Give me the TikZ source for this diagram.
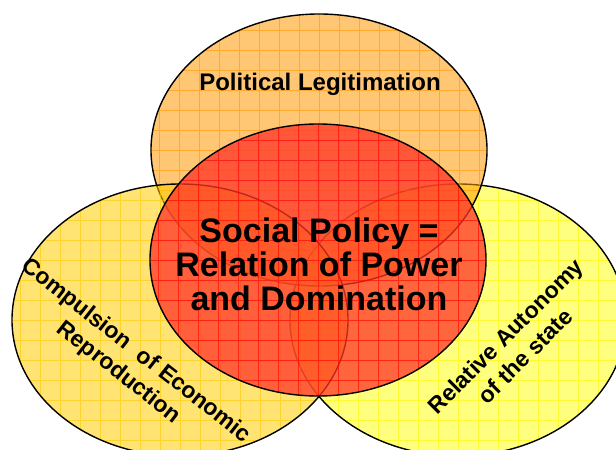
\documentclass[tikz,border=0pt]{standalone}
\usepackage{fontspec}
\setmainfont{Liberation Sans}
\usetikzlibrary{shapes.geometric}

\definecolor{legitcolor}{RGB}{255,153,0}
\definecolor{legitgrid}{RGB}{255,150,0}
\definecolor{econcolor}{RGB}{255,204,0}
\definecolor{econgrid}{RGB}{255,200,0}
\definecolor{autocolor}{RGB}{255,255,0}
\definecolor{autogrid}{RGB}{255,245,0}
\definecolor{powercolor}{RGB}{255,51,40}
\definecolor{powergrid}{RGB}{255,0,0}

\begin{document}
\begin{tikzpicture}[x=1bp, y=-1bp,
  venn/.style = {draw, ellipse, line width=1.4pt, inner sep=0pt, minimum width=336bp, minimum height=272bp},
  gridded/.style = {path picture={\draw[#1, line width=0.8bp, draw opacity=0.6] ([shift={(-30bp,-30bp)}]path picture bounding box.south west) grid[step=20bp] ([shift={(30bp,30bp)}]path picture bounding box.north east);}},
  venntext/.style = {align=center, inner sep=0pt, text=black}]
	\useasboundingbox (0,0) rectangle (616,450);

	% the four sets
	\node[venn, fill=autocolor, fill opacity=0.5, gridded=autogrid] (Autonomy) at (458,320) {};
	\node[venn, fill=legitcolor, fill opacity=0.55, gridded=legitgrid] (Legitimation) at (319,150) {};
	\node[venn, fill=econcolor, fill opacity=0.55, gridded=econgrid] (Economy) at (180,320) {};
	\node[venn, fill=powercolor, fill opacity=0.75, gridded=powergrid] (Power) at (318,260) {};

	% texts
	\node[venntext, anchor=base, font=\bfseries\fontsize{24bp}{28bp}\selectfont] (LegitText) at (320,91) {Political Legitimation};
	\node[venntext, font=\bfseries\fontsize{34bp}{34bp}\selectfont] (PowerText) at (319,264) {Social Policy =\\Relation of Power\\and Domination};
	\node[venntext, rotate=-38, font=\bfseries\fontsize{23bp}{28bp}\selectfont] (EconText) at (127,362) {Compulsion\ \ of Economic\\Reproduction};
	\node[venntext, rotate=45, font=\bfseries\fontsize{23bp}{28bp}\selectfont] (AutoText) at (515,346) {Relative Autonomy\\of the state};
\end{tikzpicture}
\end{document}
